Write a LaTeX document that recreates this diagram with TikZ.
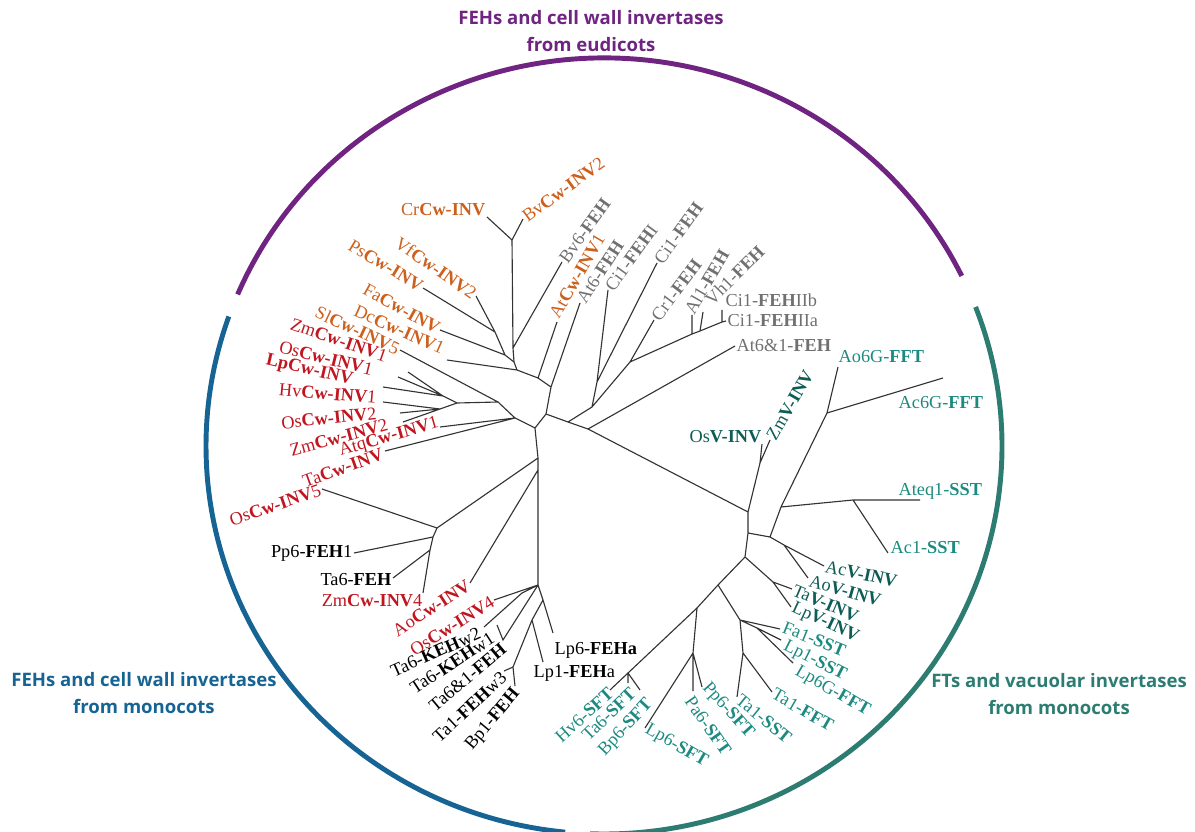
\documentclass[tikz,border=0pt]{standalone}
\usepackage{fontspec}
\setmainfont{Liberation Serif}
\newfontfamily\headfont{Open Sans}
\definecolor{eudicot}{RGB}{205,96,28}
\definecolor{monored}{RGB}{192,22,32}
\definecolor{fehgrey}{RGB}{112,112,112}
\definecolor{ftteal}{RGB}{28,138,128}
\definecolor{vinvteal}{RGB}{14,92,86}
\definecolor{arcpurple}{RGB}{110,36,128}
\definecolor{arcblue}{RGB}{22,100,148}
\definecolor{arcteal}{RGB}{44,124,114}
\newcommand\gn[1]{\textbf{#1}}

\begin{document}
\begin{tikzpicture}[x=0.025cm,y=-0.025cm,
  branch/.style={draw=black!80,line width=0.8pt},
  leaf/.style={font=\fontsize{13}{15}\selectfont,inner sep=1pt,text=#1},
  clade/.style={draw=#1,line width=3.5pt},
  head/.style={font=\headfont\bfseries\fontsize{13.2}{19}\selectfont,align=center,text=#1}]
  \useasboundingbox (0,0) rectangle (1195,832);

  \coordinate (o) at (604,446);
  \draw[clade=arcpurple] (o) ++(203:398 and 388) arc[start angle=203,end angle=334,x radius=398,y radius=388];
  \draw[clade=arcteal] (o) ++(-21:398 and 388) arc[start angle=-21,end angle=92,x radius=398,y radius=388];
  \draw[clade=arcblue] (o) ++(199.5:398 and 388) arc[start angle=199.5,end angle=95.6,x radius=398,y radius=388];

  \node[head=arcpurple] (ttop) at (591,31) {FEHs and cell wall invertases\\from eudicots};
  \node[head=arcblue] (tleft) at (144,693) {FEHs and cell wall invertases\\from monocots};
  \node[head=arcteal] (tright) at (1059,694) {FTs and vacuolar invertases\\from monocots};

  \coordinate (c0) at (535,428);
  \coordinate (c1) at (546,414);
  \coordinate (c2) at (551,387);
  \coordinate (c3) at (538,378);
  \coordinate (e0) at (517,370);
  \coordinate (e1) at (514,362);
  \coordinate (e2) at (505,355);
  \coordinate (e3) at (513,348);
  \coordinate (e4) at (495,332);
  \coordinate (e5) at (512,240);
  \coordinate (r0) at (515,418);
  \coordinate (r1) at (498,402);
  \coordinate (r2) at (457,403);
  \coordinate (r3) at (443,396);
  \coordinate (r4) at (440,409);
  \coordinate (d0) at (538,458);
  \coordinate (d1) at (538,470);
  \coordinate (p0) at (437,528);
  \coordinate (p1) at (433,537);
  \coordinate (p2) at (430,550);
  \coordinate (q0) at (538,585);
  \coordinate (q1) at (522,593);
  \coordinate (q2) at (543,600);
  \coordinate (q3) at (532,620);
  \coordinate (q4) at (513,667);
  \coordinate (g0) at (568,422);
  \coordinate (g1) at (588,429);
  \coordinate (h0) at (592,407);
  \coordinate (h1) at (597,382);
  \coordinate (h2) at (630,362);
  \coordinate (h3) at (692,334);
  \coordinate (h4) at (700,331);
  \coordinate (h5) at (722,322);
  \coordinate (f0) at (748,512);
  \coordinate (fv) at (760,463);
  \coordinate (f1) at (748,533);
  \coordinate (f2) at (770,537);
  \coordinate (f3) at (745,557);
  \coordinate (f4) at (781,507);
  \coordinate (f5) at (827,413);
  \coordinate (f6) at (853,500);
  \coordinate (fa) at (784,545);
  \coordinate (ft) at (773,582);
  \coordinate (f7) at (718,585);
  \coordinate (f8) at (740,620);
  \coordinate (fl) at (757,628);
  \coordinate (f12) at (743,653);
  \coordinate (f9) at (697,608);
  \coordinate (f10) at (693,653);
  \coordinate (f11) at (628,673);

  \coordinate (crcw) at (487,217);
  \coordinate (bvcw) at (523,219);
  \coordinate (vfcw) at (476,296);
  \coordinate (pscw) at (423,288);
  \coordinate (facw) at (440,330);
  \coordinate (dccw) at (447,360);
  \coordinate (slcw) at (400,350);
  \coordinate (atcw) at (557,322);
  \coordinate (bv6) at (562,262);
  \coordinate (at6) at (580,303);
  \coordinate (ci1i) at (608,290);
  \coordinate (ci1) at (657,263);
  \coordinate (cr1) at (654,320);
  \coordinate (al1) at (692,315);
  \coordinate (vh1) at (703,312);
  \coordinate (ci1b) at (722,310);
  \coordinate (ci1a) at (726,321);
  \coordinate (at61) at (735,346);
  \coordinate (zmcw1) at (408,372);
  \coordinate (oscw1) at (398,377);
  \coordinate (lpcw) at (383,387);
  \coordinate (hvcw1) at (383,402);
  \coordinate (oscw2) at (400,413);
  \coordinate (zmcw2) at (403,422);
  \coordinate (atqcw) at (440,427);
  \coordinate (tacw) at (385,451);
  \coordinate (oscw5) at (322,489);
  \coordinate (zmcw4) at (423,593);
  \coordinate (aocw) at (470,583);
  \coordinate (oscw4) at (494,600);
  \coordinate (pp6) at (354,553);
  \coordinate (ta6) at (393,578);
  \coordinate (kehw2) at (484,627);
  \coordinate (kehw1) at (497,625);
  \coordinate (ta61) at (503,640);
  \coordinate (ta1w3) at (504,671);
  \coordinate (bp1) at (515,686);
  \coordinate (lp6a) at (553,633);
  \coordinate (lp1a) at (543,662);
  \coordinate (ao6g) at (838,367);
  \coordinate (ac6g) at (943,378);
  \coordinate (ateq) at (920,500);
  \coordinate (ac1) at (888,553);
  \coordinate (acv) at (824,566);
  \coordinate (aov) at (808,578);
  \coordinate (tav) at (792,589);
  \coordinate (lpv) at (791,607);
  \coordinate (fa1) at (780,629);
  \coordinate (lp1s) at (781,640);
  \coordinate (lp6g) at (793,663);
  \coordinate (ta1f) at (772,692);
  \coordinate (ta1s) at (737,697);
  \coordinate (pp6s) at (702,687);
  \coordinate (pa6s) at (693,691);
  \coordinate (lp6s) at (645,728);
  \coordinate (hv6s) at (610,690);
  \coordinate (ta6s) at (628,683);
  \coordinate (bp6s) at (640,690);
  \coordinate (osv) at (762,444);
  \coordinate (zmv) at (770,440);

  \draw[branch] (c0) -- (c1) -- (c2) -- (c3) -- (e0) -- (e1) -- (e2) -- (e4) -- (vfcw)
    (e1) -- (e3) -- (e5) -- (crcw) (e5) -- (bvcw) (e4) -- (pscw) (e2) -- (facw)
    (e0) -- (dccw) (e3) -- (bv6) (c3) -- (atcw) (c2) -- (at6);
  \draw[branch] (c1) -- (g0) -- (g1) (g0) -- (h0) -- (h1) -- (ci1i) (h1) -- (ci1)
    (h0) -- (h2) -- (cr1) (h2) -- (h3) -- (al1) (h3) -- (h4) -- (vh1)
    (h4) -- (h5) -- (ci1b) (h5) -- (ci1a) (g1) -- (at61);
  \draw[branch] (g1) -- (f0) -- (fv) -- (osv) (fv) -- (zmv) (f0) -- (f1) -- (f2) -- (f4) -- (f5) -- (ao6g)
    (f5) -- (ac6g) (f4) -- (f6) -- (ateq) (f6) -- (ac1) (f2) -- (fa) -- (acv) (fa) -- (aov)
    (f1) -- (f3) -- (ft) -- (tav) (ft) -- (lpv) (f3) -- (f7) -- (f8) -- (fa1)
    (f8) -- (fl) -- (lp1s) (fl) -- (lp6g) (f8) -- (f12) -- (ta1f) (f12) -- (ta1s)
    (f7) -- (f9) -- (f10) -- (pa6s) (f10) -- (pp6s) (f10) -- (lp6s)
    (f9) -- (f11) -- (hv6s) (f11) -- (ta6s) (f11) -- (bp6s);
  \draw[branch] (c0) -- (r0) -- (atqcw) (r0) -- (tacw) (r0) -- (r1) -- (slcw) (r1) -- (r2)
    (r2) -- (r3) -- (zmcw1) (r3) -- (oscw1) (r3) -- (lpcw)
    (r2) -- (r4) -- (hvcw1) (r4) -- (oscw2) (r4) -- (zmcw2);
  \draw[branch] (c0) -- (d0) -- (p0) -- (oscw5) (p0) -- (p1) -- (pp6) (p1) -- (p2) -- (ta6)
    (p2) -- (zmcw4) (d0) -- (d1) -- (aocw) (d1) -- (q0) -- (oscw4) (q0) -- (q1) -- (kehw2)
    (q0) -- (ta61) -- (kehw1) (q0) -- (q2) -- (lp6a) (q2) -- (q3) -- (lp1a)
    (q3) -- (q4) -- (ta1w3) (q4) -- (bp1);

  \node[leaf=eudicot,anchor=south east] (tcrcw) at (crcw) {Cr\gn{Cw-INV}};
  \node[leaf=eudicot,anchor=west,rotate=36] (tbvcw) at (bvcw) {Bv\gn{Cw-INV}2};
  \node[leaf=eudicot,anchor=east,rotate=-35] (tvfcw) at (vfcw) {Vf\gn{Cw-INV}2};
  \node[leaf=eudicot,anchor=east,rotate=-31] (tpscw) at (pscw) {Ps\gn{Cw-INV}};
  \node[leaf=eudicot,anchor=east,rotate=-29] (tfacw) at (facw) {Fa\gn{Cw-INV}};
  \node[leaf=eudicot,anchor=east,rotate=-24] (tdccw) at (445,350) {Dc\gn{Cw-INV}1};
  \node[leaf=eudicot,anchor=east,rotate=-25] (tslcw) at (slcw) {Sl\gn{Cw-INV}5};
  \node[leaf=eudicot,anchor=west,rotate=60] (tatcw) at (553,318) {At\gn{Cw-INV}1};

  \node[leaf=fehgrey,anchor=west,rotate=54] (tbv6) at (bv6) {Bv6-\gn{FEH}};
  \node[leaf=fehgrey,anchor=west,rotate=57] (tat6) at (at6) {At6-\gn{FEH}};
  \node[leaf=fehgrey,anchor=west,rotate=54] (tci1i) at (ci1i) {Ci1-\gn{FEH}I};
  \node[leaf=fehgrey,anchor=west,rotate=54] (tci1) at (ci1) {Ci1-\gn{FEH}};
  \node[leaf=fehgrey,anchor=west,rotate=53] (tcr1) at (cr1) {Cr1-\gn{FEH}};
  \node[leaf=fehgrey,anchor=west,rotate=60] (tal1) at (688,314) {Al1-\gn{FEH}};
  \node[leaf=fehgrey,anchor=west,rotate=45] (tvh1) at (707,303) {Vh1-\gn{FEH}};
  \node[leaf=fehgrey,anchor=west] (tci1b) at (724,300) {Ci1-\gn{FEH}IIb};
  \node[leaf=fehgrey,anchor=west] (tci1a) at (ci1a) {Ci1-\gn{FEH}IIa};
  \node[leaf=fehgrey,anchor=west] (tat61) at (at61) {At6\&1-\gn{FEH}};

  \node[leaf=monored,anchor=east,rotate=-19] (tzmcw1) at (388,357) {Zm\gn{Cw-INV}1};
  \node[leaf=monored,anchor=east,rotate=-14] (toscw1) at (374,370) {Os\gn{Cw-INV}1};
  \node[leaf=monored,anchor=east,rotate=-13] (tlpcw) at (354,381) {\gn{LpCw-INV}};
  \node[leaf=monored,anchor=east,rotate=-5] (thvcw1) at (378,398) {Hv\gn{Cw-INV}1};
  \node[leaf=monored,anchor=east,rotate=6] (toscw2) at (378,413) {Os\gn{Cw-INV}2};
  \node[leaf=monored,anchor=east,rotate=15] (tzmcw2) at (389,424) {Zm\gn{Cw-INV}2};
  \node[leaf=monored,anchor=east,rotate=16] (tatqcw) at (440,423) {Atq\gn{Cw-INV}1};
  \node[leaf=monored,anchor=east,rotate=20] (ttacw) at (384,453) {Ta\gn{Cw-INV}};
  \node[leaf=monored,anchor=east,rotate=19] (toscw5) at (oscw5) {Os\gn{Cw-INV}5};
  \node[leaf=monored,anchor=east] (tzmcw4) at (424,601) {Zm\gn{Cw-INV}4};
  \node[leaf=monored,anchor=east,rotate=33] (taocw) at (aocw) {Ao\gn{Cw-INV}};
  \node[leaf=monored,anchor=east,rotate=32] (toscw4) at (oscw4) {Os\gn{Cw-INV}4};

  \node[leaf=black,anchor=east] (tpp6) at (pp6) {Pp6-\gn{FEH}1};
  \node[leaf=black,anchor=east] (tta6) at (393,580) {Ta6-\gn{FEH}};
  \node[leaf=black,anchor=east,rotate=24] (tkehw2) at (481,632) {Ta6-\gn{KEH}w2};
  \node[leaf=black,anchor=east,rotate=33] (tkehw1) at (494,636) {Ta6-\gn{KEH}w1};
  \node[leaf=black,anchor=east,rotate=40] (tta61) at (505,646) {Ta6\&1-\gn{FEH}};
  \node[leaf=black,anchor=east,rotate=43] (tta1w3) at (505,674) {Ta1-\gn{FEH}w3};
  \node[leaf=black,anchor=east,rotate=50] (tbp1) at (518,690) {Bp1-\gn{FEH}};
  \node[leaf=black,anchor=west] (tlp6a) at (553,650) {Lp6-\gn{FEHa}};
  \node[leaf=black,anchor=west] (tlp1a) at (532,673) {Lp1-\gn{FEH}a};

  \node[leaf=ftteal,anchor=west] (tao6g) at (837,357) {Ao6G-\gn{FFT}};
  \node[leaf=ftteal,anchor=west] (tac6g) at (897,403) {Ac6G-\gn{FFT}};
  \node[leaf=ftteal,anchor=west] (tateq) at (897,491) {Ateq1-\gn{SST}};
  \node[leaf=ftteal,anchor=west] (tac1) at (889,548) {Ac1-\gn{SST}};
  \node[leaf=vinvteal,anchor=west,rotate=-12] (tacv) at (acv) {Ac\gn{V-INV}};
  \node[leaf=vinvteal,anchor=west,rotate=-16] (taov) at (808,580) {Ao\gn{V-INV}};
  \node[leaf=vinvteal,anchor=west,rotate=-23] (ttav) at (tav) {Ta\gn{V-INV}};
  \node[leaf=vinvteal,anchor=west,rotate=-25] (tlpv) at (lpv) {Lp\gn{V-INV}};
  \node[leaf=ftteal,anchor=west,rotate=-22] (tfa1) at (782,626) {Fa1-\gn{SST}};
  \node[leaf=ftteal,anchor=west,rotate=-27] (tlp1s) at (783,645) {Lp1-\gn{SST}};
  \node[leaf=ftteal,anchor=west,rotate=-30] (tlp6g) at (795,670) {Lp6G-\gn{FFT}};
  \node[leaf=ftteal,anchor=west,rotate=-30] (tta1f) at (ta1f) {Ta1-\gn{FFT}};
  \node[leaf=ftteal,anchor=west,rotate=-39] (tta1s) at (ta1s) {Ta1-\gn{SST}};
  \node[leaf=ftteal,anchor=west,rotate=-48] (tpp6s) at (704,684) {Pp6-\gn{SFT}};
  \node[leaf=ftteal,anchor=west,rotate=-55] (tpa6s) at (688,697) {Pa6-\gn{SFT}};
  \node[leaf=ftteal,anchor=west,rotate=-30] (tlp6s) at (lp6s) {Lp6-\gn{SFT}};
  \node[leaf=ftteal,anchor=east,rotate=42] (thv6s) at (612,690) {Hv6-\gn{SFT}};
  \node[leaf=ftteal,anchor=east,rotate=44] (tta6s) at (634,690) {Ta6-\gn{SFT}};
  \node[leaf=ftteal,anchor=east,rotate=47] (tbp6s) at (651,701) {Bp6-\gn{SFT}};
  \node[leaf=vinvteal,anchor=east] (tosv) at (763,437) {Os\gn{V-INV}};
  \node[leaf=vinvteal,anchor=west,rotate=60] (tzmv) at (zmv) {Zm\gn{V-INV}};
\end{tikzpicture}
\end{document}
